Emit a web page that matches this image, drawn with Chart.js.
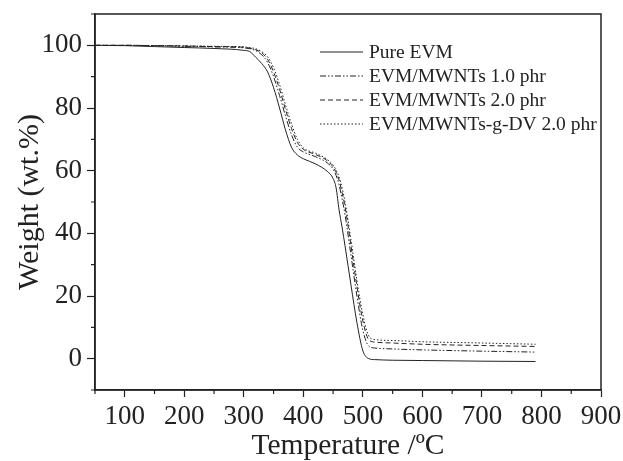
<!DOCTYPE html>
<html lang="en">
<head>
    <meta charset="UTF-8">
    <title>TGA curves</title>
    <script src="https://cdn.jsdelivr.net/npm/chart.js"></script>
    <style>
        body { margin: 0; background: #fff; }
    </style>
</head>
<body>
    <canvas id="tgaChart" width="623" height="461"></canvas>
    <script>
        // temperature points (°C) shared by every curve
        const temps = [50, 100, 150, 200, 250, 300, 310, 320, 330, 340, 350, 360, 370, 380, 390, 400,
                       420, 440, 450, 455, 460, 465, 470, 480, 490, 500, 510, 520, 550, 600, 700, 790];

        const seriesNames = ['Pure EVM', 'EVM/MWNTs 1.0 phr', 'EVM/MWNTs 2.0 phr', 'EVM/MWNTs-g-DV 2.0 phr'];

        const pureEvm = [100, 99.9, 99.6, 99.3, 99.0, 98.4, 98.0, 96.2, 94.2, 91.5, 86.5, 80, 73, 67.5, 65, 63.8,
                         62.2, 59.8, 57.5, 54.5, 47.5, 42, 36, 23.5, 11.5, 2.5, 0, -0.3, -0.5, -0.6, -0.8, -0.9];
        const mwnts10 = [100, 100, 99.9, 99.7, 99.5, 99.2, 98.9, 98.3, 97, 94.5, 90, 84, 77.5, 71.5, 67.5, 66,
                         64.5, 62.5, 60.5, 58.5, 55.5, 51, 46, 33, 20, 9, 4, 3.4, 3.1, 2.8, 2.4, 2.1];
        const mwnts20 = [100, 100, 99.9, 99.8, 99.6, 99.4, 99.1, 98.6, 97.6, 95.5, 91.5, 86, 79.5, 73.5, 69, 66.8,
                         65.2, 63.2, 61.2, 59.5, 57, 53, 48.5, 36, 23, 12, 6, 5.3, 5, 4.6, 4.2, 3.9];
        const mwntsDv = [100, 100, 99.9, 99.8, 99.7, 99.5, 99.3, 98.9, 98, 96.3, 92.8, 87.5, 81, 75, 70, 67.3,
                         65.6, 63.6, 61.8, 60.2, 58, 54.5, 50, 38, 25, 14, 7.2, 6.1, 5.8, 5.4, 5, 4.6];

        const xMajorTicks = [100, 200, 300, 400, 500, 600, 700, 800, 900];
        const xMinorTicks = [50, 150, 250, 350, 450, 550, 650, 750, 850];
        const yMajorTicks = [0, 20, 40, 60, 80, 100];
        const yMinorTicks = [-10, 10, 30, 50, 70, 90, 110];

        const ink = '#222';
        const serif = '"Liberation Serif", "Times New Roman", serif';
        const dashes = [[], [6, 2, 1.5, 2, 1.5, 2], [5, 3], [1.5, 2]];

        function toPoints(values) {
            return temps.map((t, i) => ({ x: t, y: values[i] }));
        }

        // box round the plot plus the short minor ticks
        const frameAndMinor = {
            id: 'frameAndMinor',
            afterDraw(chart) {
                const { ctx, chartArea: a, scales: { x, y } } = chart;
                ctx.save();
                ctx.strokeStyle = ink;
                ctx.lineWidth = 1.5;
                ctx.strokeRect(a.left, a.top, a.right - a.left, a.bottom - a.top);
                ctx.lineWidth = 1.2;
                ctx.beginPath();
                for (const v of xMinorTicks) {
                    const px = x.getPixelForValue(v);
                    ctx.moveTo(px, a.bottom);
                    ctx.lineTo(px, a.bottom + 4);
                }
                for (const v of yMinorTicks) {
                    const py = y.getPixelForValue(v);
                    ctx.moveTo(a.left, py);
                    ctx.lineTo(a.left - 4, py);
                }
                ctx.stroke();
                ctx.restore();
            }
        };

        // legend sitting inside the plot, top right
        const insideLegend = {
            id: 'insideLegend',
            afterDraw(chart) {
                const { ctx, chartArea: a } = chart;
                const x0 = a.left + 225, x1 = x0 + 43;
                ctx.save();
                ctx.font = '19.5px ' + serif;
                ctx.fillStyle = ink;
                ctx.textBaseline = 'middle';
                chart.data.datasets.forEach((ds, i) => {
                    const yy = a.top + 38 + i * 24;
                    ctx.strokeStyle = ink;
                    ctx.lineWidth = 1;
                    ctx.setLineDash(ds.borderDash);
                    ctx.beginPath();
                    ctx.moveTo(x0, yy);
                    ctx.lineTo(x1, yy);
                    ctx.stroke();
                    ctx.setLineDash([]);
                    ctx.fillText(ds.label, x1 + 6, yy + 1);
                });
                ctx.restore();
            }
        };

        const ctx = document.getElementById('tgaChart').getContext('2d');
        new Chart(ctx, {
            type: 'line',
            data: {
                datasets: [pureEvm, mwnts10, mwnts20, mwntsDv].map((vals, i) => ({
                    label: seriesNames[i],
                    data: toPoints(vals),
                    borderColor: ink,
                    borderWidth: 1,
                    borderDash: dashes[i],
                    pointRadius: 0,
                    fill: false,
                    cubicInterpolationMode: 'monotone'
                }))
            },
            options: {
                responsive: false,
                animation: false,
                layout: { padding: { left: 0, right: 22, top: 14, bottom: 0 } },
                plugins: { legend: { display: false }, tooltip: { enabled: false } },
                scales: {
                    x: {
                        type: 'linear',
                        min: 50,
                        max: 900,
                        afterBuildTicks: s => { s.ticks = xMajorTicks.map(v => ({ value: v })); },
                        afterFit: s => { s.height = 71; s.paddingLeft = 0; s.paddingRight = 0; },
                        border: { color: ink, width: 1.5 },
                        grid: { drawOnChartArea: false, tickLength: 7, tickColor: ink, tickWidth: 1.2 },
                        ticks: {
                            color: ink,
                            padding: 4,
                            maxRotation: 0,
                            autoSkip: false,
                            font: { family: serif, size: 27 }
                        },
                        title: {
                            display: true,
                            text: 'Temperature /ºC',
                            color: ink,
                            padding: 0,
                            font: { family: serif, size: 29.5, lineHeight: 1 }
                        }
                    },
                    y: {
                        type: 'linear',
                        min: -10,
                        max: 110,
                        afterBuildTicks: s => { s.ticks = yMajorTicks.map(v => ({ value: v })); },
                        afterFit: s => { s.width = 95; s.paddingTop = 0; s.paddingBottom = 0; },
                        border: { color: ink, width: 1.5 },
                        grid: { drawOnChartArea: false, tickLength: 8, tickColor: ink, tickWidth: 1.2 },
                        ticks: {
                            color: ink,
                            padding: 5,
                            font: { family: serif, size: 27 }
                        },
                        title: {
                            display: true,
                            text: 'Weight (wt.%)',
                            color: ink,
                            padding: { top: 15, bottom: 0 },
                            font: { family: serif, size: 30, lineHeight: 1 }
                        }
                    }
                }
            },
            plugins: [frameAndMinor, insideLegend]
        });
    </script>
</body>
</html>
